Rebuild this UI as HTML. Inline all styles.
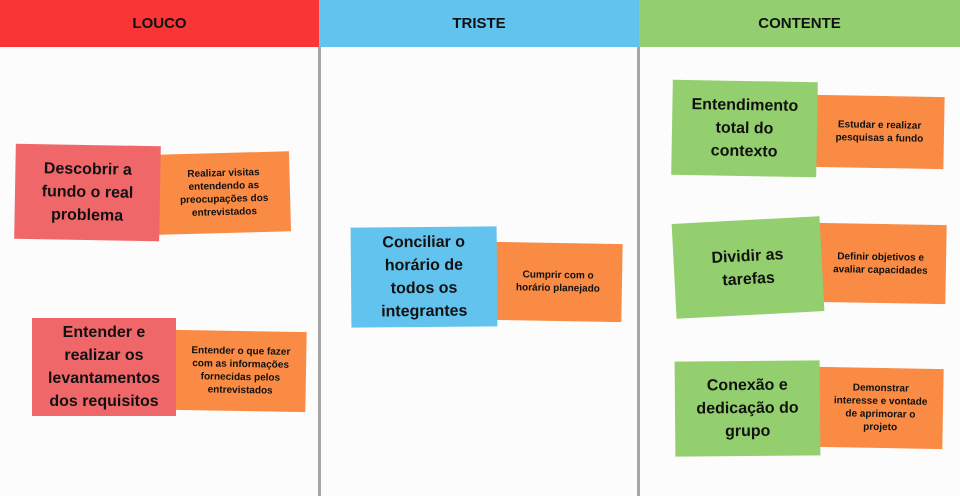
<!DOCTYPE html>
<html><head><meta charset="utf-8"><style>
body{margin:0;width:960px;height:496px;background:#fcfcfc;position:relative;overflow:hidden;font-family:"Liberation Sans",sans-serif;font-weight:bold;color:#111}
.h{position:absolute;top:0;height:47px;display:flex;align-items:center;justify-content:center;font-size:15px;color:#111}
.v{position:absolute;top:47px;bottom:0;width:3px;background:#a6a6a6}
.n{position:absolute;display:flex;align-items:center;justify-content:center;text-align:center;box-sizing:border-box}
.m{font-size:16px;line-height:23px}
.o{background:#f98b45;font-size:10px;line-height:13px}
.r{background:#f0676a}.g{background:#93cf6e}.b{background:#62c3ef}
</style></head><body>
<div class="h" style="left:0;width:319px;background:#f93535">LOUCO</div>
<div class="h" style="left:319px;width:320px;background:#62c3ef">TRISTE</div>
<div class="h" style="left:639px;width:321px;background:#93cf6e">CONTENTE</div>
<div class="v" style="left:318px"></div>
<div class="v" style="left:637px"></div>

<div class="n o" style="left:158px;top:153px;width:132px;height:80px;transform:rotate(-1.5deg)">Realizar visitas<br>entendendo as<br>preocupações dos<br>entrevistados</div>
<div class="n m r" style="left:15px;top:145px;width:145px;height:95px;transform:rotate(1deg)">Descobrir a<br>fundo o real<br>problema</div>

<div class="n o" style="left:175px;top:331px;width:131px;height:80px;transform:rotate(1deg)">Entender o que fazer<br>com as informações<br>fornecidas pelos<br>entrevistados</div>
<div class="n m r" style="left:32px;top:318px;width:144px;height:98px">Entender e<br>realizar os<br>levantamentos<br>dos requisitos</div>

<div class="n o" style="left:494px;top:243px;width:128px;height:78px;transform:rotate(1deg)">Cumprir com o<br>horário planejado</div>
<div class="n m b" style="left:351px;top:227px;width:146px;height:100px;transform:rotate(-0.5deg)">Conciliar o<br>horário de<br>todos os<br>integrantes</div>

<div class="n o" style="left:815px;top:96px;width:129px;height:72px;transform:rotate(1deg)">Estudar e realizar<br>pesquisas a fundo</div>
<div class="n m g" style="left:672px;top:81px;width:145px;height:95px;transform:rotate(1deg)">Entendimento<br>total do<br>contexto</div>

<div class="n o" style="left:815px;top:224px;width:131px;height:79px;transform:rotate(1deg)">Definir objetivos e<br>avaliar capacidades</div>
<div class="n m g" style="left:674px;top:220px;width:148px;height:95px;transform:rotate(-3deg)">Dividir as<br>tarefas</div>

<div class="n o" style="left:818px;top:368px;width:125px;height:80px;transform:rotate(1deg)">Demonstrar<br>interesse e vontade<br>de aprimorar o<br>projeto</div>
<div class="n m g" style="left:675px;top:361px;width:145px;height:95px;transform:rotate(-0.5deg)">Conexão e<br>dedicação do<br>grupo</div>
</body></html>
